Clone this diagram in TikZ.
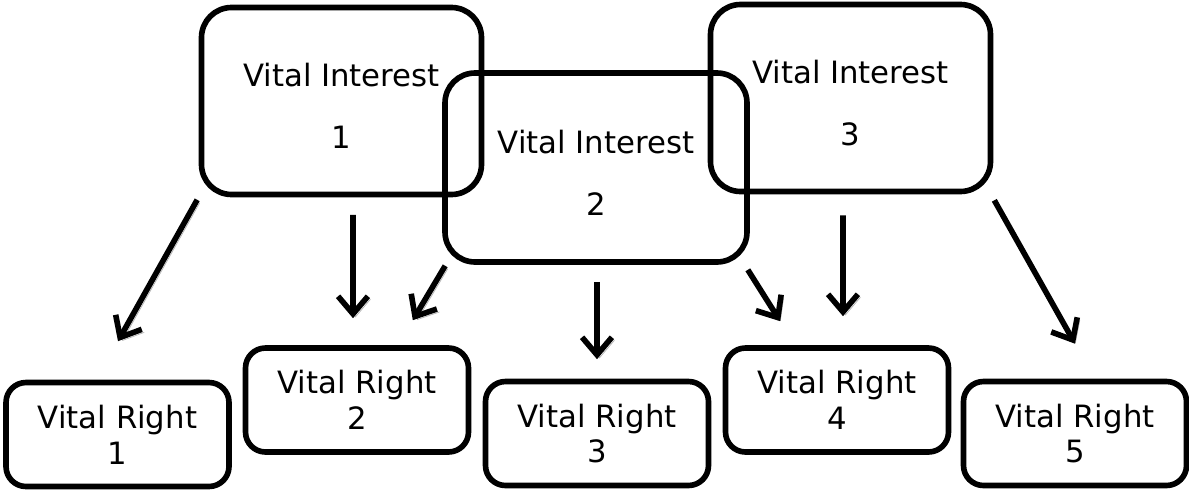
\documentclass[tikz,border=0pt]{standalone}
\usepackage{fontspec}
\setmainfont{DejaVu Sans}
\usetikzlibrary{arrows.meta,calc}

\begin{document}
\begin{tikzpicture}[
    interest/.style={draw, line width=3.2pt, rounded corners=0.6cm, minimum width=5.6cm, minimum height=3.74cm, align=center, font=\fontsize{17.5}{20.4}\selectfont},
    vright/.style={draw, line width=3.2pt, rounded corners=0.4cm, minimum width=4.46cm, minimum height=2.08cm, align=center, font=\fontsize{17.5}{20.4}\selectfont},
    arr/.style={line width=3.2pt, -{Straight Barb[length=10pt,width=17pt]},
      preaction={draw=black!30, transform canvas={shift={(0.05,-0.06)}}}}
  ]
  \useasboundingbox (0,0) rectangle (23.78,-9.84);

  % Draw vital interests
  \node[interest] (vi1) at (6.83,-2.02) {\rule{0pt}{19pt}Vital Interest\\[15pt]1};
  \node[interest, minimum width=6.04cm, minimum height=3.78cm] (vi2) at (11.92,-3.35) {\rule{0pt}{19pt}Vital Interest\\[15pt]2};
  \node[interest] (vi3) at (17.01,-1.96) {\rule{0pt}{19pt}Vital Interest\\[15pt]3};

  % Draw vital rights
  \node[vright] (vr1) at (2.35,-8.69) {Vital Right\\1};
  \node[vright] (vr2) at (7.14,-8.00) {Vital Right\\2};
  \node[vright] (vr3) at (11.94,-8.67) {Vital Right\\3};
  \node[vright] (vr4) at (16.74,-8.00) {Vital Right\\4};
  \node[vright] (vr5) at (21.50,-8.67) {Vital Right\\5};

  % Draw arrows
  \draw[arr] ($(vi1.south west)+(-0.03,-0.05)$) -- ($(vr1.north)+(0.01,0.77)$);
  \draw[arr] ($(vi1.south)+(0.23,-0.35)$) -- ($(vr2.north)+(-0.08,0.54)$);
  \draw[arr] ($(vi2.south west)+(0.06,-0.02)$) -- ($(vr2.north east)+(-1.17,0.5)$);
  \draw[arr] ($(vi2.south)+(0.02,-0.34)$) -- ($(vr3.north)+(0,0.39)$);
  \draw[arr] ($(vi2.south east)+(-0.04,-0.1)$) -- ($(vr4.north west)+(1.15,0.48)$);
  \draw[arr] ($(vi3.south)+(-0.15,-0.42)$) -- ($(vr4.north)+(0.12,0.58)$);
  \draw[arr] ($(vi3.south east)+(0.02,-0.12)$) -- ($(vr5.north)+(0,0.7)$);
\end{tikzpicture}
\end{document}
